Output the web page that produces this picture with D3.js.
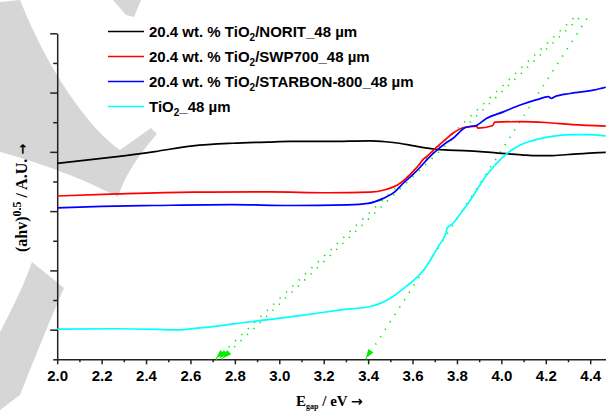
<!DOCTYPE html>
<meta charset="utf-8">
<title>Tauc plot</title>
<style>
  body { margin: 0; background: #fff; }
  svg { display: block; }
  .tick text { font-family: Arial, "Liberation Sans", sans-serif; font-weight: bold; font-size: 15px; fill: #000; }
  .axis path, .axis line { stroke: #222; stroke-width: 1.5; }
</style>
<div id="chart"></div>
<script src="https://cdnjs.cloudflare.com/ajax/libs/d3/7.8.5/d3.min.js"></script>
<script>

// series: [E (eV), (ahv)^0.5 in A.U.]
var norit = [[2.00,6.61],[2.13,6.72],[2.27,6.84],[2.44,7.01],[2.61,7.20],[2.79,7.29],[2.95,7.33],[3.05,7.35],
  [3.22,7.35],[3.41,7.37],[3.48,7.34],[3.54,7.29],[3.60,7.21],[3.65,7.14],[3.71,7.08],[3.76,7.06],[3.83,7.04],
  [3.92,7.00],[4.00,6.95],[4.09,6.90],[4.16,6.87],[4.22,6.87],[4.30,6.91],[4.38,6.95],[4.47,6.98]];
var swp700 = [[2.00,5.51],[2.27,5.58],[2.61,5.64],[2.96,5.65],[3.22,5.62],[3.41,5.64],[3.48,5.73],[3.53,5.87],
  [3.57,6.10],[3.61,6.40],[3.634,6.61],[3.645,6.72],[3.67,6.88],[3.71,7.17],[3.75,7.43],[3.78,7.62],[3.836,7.83],
  [3.888,7.87],[3.895,7.80],[3.96,7.88],[3.97,8.00],[4.09,8.02],[4.20,7.99],[4.32,7.92],[4.47,7.87]];
var starbon = [[2.00,5.11],[2.20,5.16],[2.44,5.19],[2.79,5.22],[3.05,5.19],[3.31,5.21],[3.40,5.26],[3.468,5.43],
  [3.52,5.65],[3.558,5.94],[3.60,6.22],[3.634,6.48],[3.67,6.78],[3.71,7.06],[3.75,7.30],[3.783,7.46],[3.836,7.81],
  [3.89,7.90],[3.934,8.13],[4.009,8.35],[4.085,8.58],[4.16,8.76],[4.212,8.86],[4.225,8.80],[4.24,8.86],
  [4.31,8.97],[4.42,9.09],[4.47,9.18]];
var tio2 = [[2.00,1.02],[2.27,1.03],[2.45,1.01],[2.54,0.99],[2.63,1.05],[2.72,1.12],[2.85,1.25],[2.96,1.35],
  [3.10,1.48],[3.27,1.66],[3.42,1.80],[3.50,2.06],[3.57,2.45],[3.65,3.01],[3.72,3.86],[3.75,4.25],[3.755,4.42],
  [3.783,4.59],[3.80,4.76],[3.86,5.37],[3.934,6.22],[4.009,6.84],[4.085,7.23],[4.16,7.42],[4.235,7.53],
  [4.33,7.58],[4.385,7.58],[4.47,7.54]];

// band-gap tangent lines
var tangentA1 = [[2.715,0],[4.33,11.55]];
var tangentA2 = [[2.74,0],[4.355,11.55]];
var tangentB = [[3.39,0],[4.39,11.55]];
var gapArrows = [2.715, 2.73, 2.745, 3.39];

var seriesNames = ["NORIT", "SWP700", "STARBON-800", "TiO2"];
var seriesColors = ["#000000", "#ff0000", "#0000ff", "#00ffff"];
var legendLabels = [
  ["20.4 wt. % TiO", "2", "/NORIT_48 µm"],
  ["20.4 wt. % TiO", "2", "/SWP700_48 µm"],
  ["20.4 wt. % TiO", "2", "/STARBON-800_48 µm"],
  ["TiO", "2", "_48 µm"]
];

var xMajorTicks = [2.0,2.2,2.4,2.6,2.8,3.0,3.2,3.4,3.6,3.8,4.0,4.2,4.4];
var xMinorTicks = [2.1,2.3,2.5,2.7,2.9,3.1,3.3,3.5,3.7,3.9,4.1,4.3];
var yLongTicks = [1,3,5,7,9,11];
var yShortTicks = [0,2,4,6,8,10];

var width = 606, height = 414;
var plotLeft = 57.2, plotRight = 606.2, plotTop = 33.3, plotBottom = 359.3;

var svg = d3.select("#chart").append("svg")
  .attr("width", width)
  .attr("height", height);

// faint watermark behind the plot
var wm = svg.append("g").attr("fill", "#d6d6d6");
wm.append("path").attr("d", "M0,2 L20,0 C48,70 88,128 120,150 L151,128 L157,134 C136,158 124,178 118,197 C98,186 50,165 0,152 Z");
wm.append("path").attr("d", "M113,0 L141,0 L134,17 L126,15 Z");
wm.append("path").attr("d", "M32,262 L64,288 C52,315 38,350 20,395 L0,410 L0,332 C14,305 24,285 32,262 Z");

var x = d3.scaleLinear().domain([2.0, 4.472]).range([plotLeft, plotRight]);
var y = d3.scaleLinear().domain([0, 11]).range([plotBottom, plotTop]);

// axes
svg.append("g").attr("class", "axis")
  .attr("transform", "translate(0," + plotBottom + ")")
  .call(d3.axisBottom(x).tickValues(xMinorTicks).tickSize(3).tickFormat(""))
  .select(".domain").remove();
svg.append("g").attr("class", "axis")
  .attr("transform", "translate(0," + plotBottom + ")")
  .call(d3.axisBottom(x).tickValues(xMajorTicks).tickSize(5).tickSizeOuter(0).tickPadding(6).tickFormat(d3.format(".1f")));

svg.append("g").attr("class", "axis")
  .attr("transform", "translate(" + plotLeft + ",0)")
  .call(d3.axisLeft(y).tickValues(yShortTicks).tickSize(4).tickFormat(""))
  .select(".domain").remove();
svg.append("g").attr("class", "axis")
  .attr("transform", "translate(" + plotLeft + ",0)")
  .call(d3.axisLeft(y).tickValues(yLongTicks).tickSize(7).tickSizeOuter(0).tickFormat(""));

// tangent lines
var line = d3.line().x(function(d) { return x(d[0]); }).y(function(d) { return y(d[1]); });
[tangentA1, tangentA2, tangentB].forEach(function(t) {
  svg.append("path").datum(t)
    .attr("d", line)
    .attr("fill", "none")
    .attr("stroke", "#00ee00")
    .attr("stroke-width", 1.6)
    .attr("stroke-dasharray", "1.3,7.5");
});
gapArrows.forEach(function(e) {
  var t = e > 3 ? tangentB : tangentA1;
  var dx = x(t[1][0]) - x(t[0][0]), dy = y(t[1][1]) - y(t[0][1]);
  var ang = Math.atan2(dy, dx) * 180 / Math.PI;
  svg.append("path")
    .attr("d", "M0,0 L9,-3 L9,3 Z")
    .attr("fill", "#00ee00")
    .attr("transform", "translate(" + x(e) + "," + (plotBottom - 1) + ") rotate(" + ang + ")");
});

// curves
var curve = d3.line().curve(d3.curveMonotoneX)
  .x(function(d) { return x(d[0]); }).y(function(d) { return y(d[1]); });
[norit, swp700, starbon, tio2].forEach(function(s, i) {
  svg.append("path").datum(s)
    .attr("d", curve)
    .attr("fill", "none")
    .attr("stroke", seriesColors[i])
    .attr("stroke-width", 1.7);
});

// legend
var legend = svg.append("g").attr("font-family", "Arial, 'Liberation Sans', sans-serif")
  .attr("font-weight", "bold").attr("font-size", 15);
legendLabels.forEach(function(parts, i) {
  var ly = 31.5 + i * 25;
  legend.append("line")
    .attr("x1", 108).attr("x2", 144).attr("y1", ly).attr("y2", ly)
    .attr("stroke", seriesColors[i]).attr("stroke-width", 1.7);
  var t = legend.append("text").attr("x", 149).attr("y", ly + 5.5);
  t.append("tspan").text(parts[0]);
  t.append("tspan").attr("font-size", 10).attr("dy", 4).text(parts[1]);
  t.append("tspan").attr("dy", -4).text(parts[2]);
});

// axis titles
var serif = "'Times New Roman', 'Liberation Serif', serif";
var xt = svg.append("text")
  .attr("x", 296).attr("y", 406)
  .attr("font-family", serif)
  .attr("font-weight", "bold").attr("font-size", 15);
xt.append("tspan").text("E");
xt.append("tspan").attr("font-size", 8).attr("dy", 3).text("gap");
xt.append("tspan").attr("dy", -3).text(" / eV ");
xt.append("tspan").attr("font-family", "'DejaVu Sans', sans-serif").attr("font-size", 14).text("\u2192");

var yt = svg.append("text")
  .attr("transform", "translate(26.5,252) rotate(-90)")
  .attr("font-family", serif)
  .attr("font-weight", "bold").attr("font-size", 16);
yt.append("tspan").text("(ahv)");
yt.append("tspan").attr("font-size", 12).attr("dy", -6).text("0.5");
yt.append("tspan").attr("dy", 6).text(" / A.U. ");
yt.append("tspan").attr("font-family", "'DejaVu Sans', sans-serif").attr("font-size", 13).text("\u2192");

</script>
